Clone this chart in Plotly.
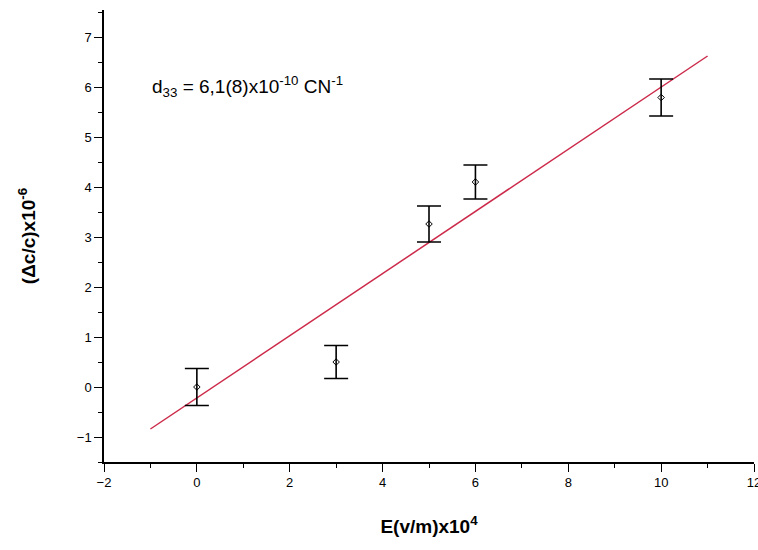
import plotly.graph_objects as go

# Measured points: field E (x10^4 V/m) vs relative change (x10^-6)
field_e = [0, 3, 5, 6, 10]
delta_c = [0.0, 0.5, 3.26, 4.1, 5.79]
delta_err = [0.37, 0.33, 0.36, 0.34, 0.37]

# Linear fit endpoints
fit_x = [-1, 11]
fit_y = [-0.84, 6.62]

x_ticks = [-2, 0, 2, 4, 6, 8, 10, 12]
y_ticks = [-1, 0, 1, 2, 3, 4, 5, 6, 7]

font_family = "Liberation Sans, Arial, sans-serif"

fig = go.Figure()

fig.add_trace(go.Scatter(
    x=fit_x, y=fit_y, mode="lines",
    line=dict(color="#cc2a4a", width=1.5),
    showlegend=False, hoverinfo="skip",
))

fig.add_trace(go.Scatter(
    x=field_e, y=delta_c, mode="markers",
    marker=dict(symbol="diamond-open", size=5, color="black",
                line=dict(width=1, color="black")),
    error_y=dict(type="data", array=delta_err, visible=True,
                 color="black", thickness=1.6, width=12),
    showlegend=False,
))

fig.add_annotation(
    x=0.07, y=0.83, xref="paper", yref="paper",
    xanchor="left", yanchor="middle", showarrow=False,
    text="d<sub>33</sub> = 6,1(8)x10<sup>-10</sup> CN<sup>-1</sup>",
    font=dict(family=font_family, size=19, color="black"),
)

axis_common = dict(
    showgrid=False, zeroline=False, showline=True,
    linecolor="black", linewidth=1.5,
    ticks="outside", ticklen=8, tickwidth=1.3, tickcolor="black",
    tickfont=dict(family=font_family, size=13, color="black"),
    mirror=False, automargin=False, ticklabeloverflow="allow",
)

fig.update_layout(
    width=758, height=550,
    margin=dict(l=104, r=4, t=10, b=88),
    paper_bgcolor="white", plot_bgcolor="white",
    xaxis=dict(
        range=[-2, 12], tickvals=x_ticks,
        minor=dict(dtick=1, ticks="outside", ticklen=4, tickwidth=1.2,
                   tickcolor="black"),
        title=dict(text="<b>E(v/m)x10<sup>4</sup></b>",
                   font=dict(family=font_family, size=19, color="black"),
                   standoff=30),
        **axis_common,
    ),
    yaxis=dict(
        range=[-1.5, 7.54], tickvals=y_ticks,
        minor=dict(dtick=0.5, ticks="outside", ticklen=4, tickwidth=1.2,
                   tickcolor="black"),
        title=dict(text="<b>(Δc/c)x10<sup>-6</sup></b>",
                   font=dict(family=font_family, size=19, color="black"),
                   standoff=36),
        **axis_common,
    ),
)

fig.write_html("out.html")
